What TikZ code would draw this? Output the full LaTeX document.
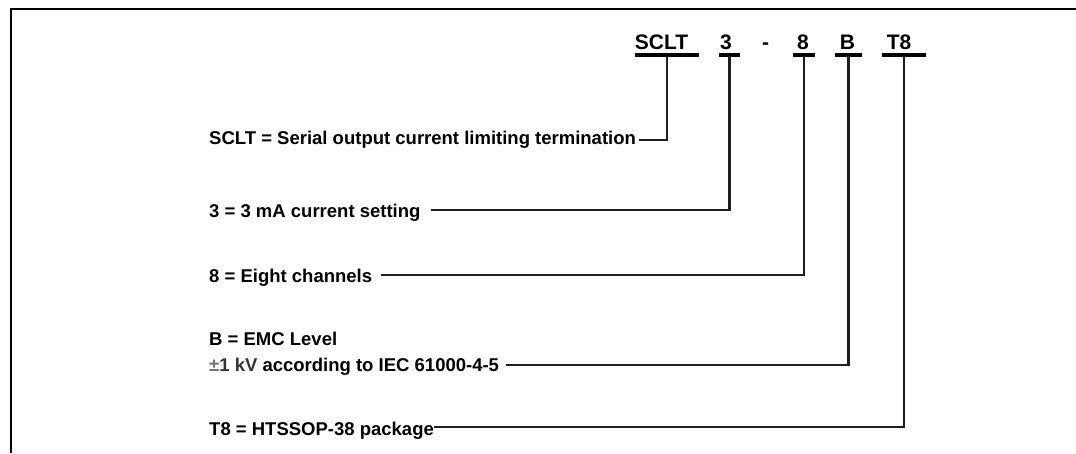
\documentclass[tikz,border=0pt]{standalone}
\usepackage{fontspec}
\setmainfont{Liberation Sans}
\begin{document}
\begin{tikzpicture}[x=1pt,y=-1pt,
  lbl/.style={font=\fontsize{18.5}{20}\selectfont\bfseries, inner sep=0pt, anchor=base west},
  code/.style={font=\fontsize{21}{23}\selectfont\bfseries, inner sep=0pt, anchor=base},
  uline/.style={line width=3.2pt},
  conn/.style={line width=2.3pt, draw=black!88},
  frameline/.style={line width=2.4pt}]
\useasboundingbox (0,0) rectangle (1076,453);
% frame
\draw[frameline] (11,453) -- (11,9) -- (1076,9);
% ordering code
\node[code] (cSCLT) at (661.5,49) {SCLT};
\node[code] (c3) at (726,49) {3};
\node[code] (cdash) at (765.5,49) {-};
\node[code] (c8) at (803,49) {8};
\node[code] (cB) at (847.5,49) {B};
\node[code] (cT8) at (899,49) {T8};
% underlines
\draw[uline] (635,55) -- (699,55);
\draw[uline] (719,55) -- (740,55);
\draw[uline] (793,55) -- (815,55);
\draw[uline] (835,55) -- (862,55);
\draw[uline] (882,55) -- (926,55);
\coordinate (u1) at (667,56);
\coordinate (u2) at (729.5,56);
\coordinate (u3) at (804,56);
\coordinate (u4) at (848.5,56);
\coordinate (u5) at (904,56);
% labels
\node[lbl] (l1) at (209,144) {SCLT = Serial output current limiting termination};
\node[lbl] (l2) at (209,217) {3 = 3 mA current setting};
\node[lbl] (l3) at (209,282) {8 = Eight channels};
\node[lbl] (l4a) at (209,345) {B = EMC Level};
\node[lbl] (l4) at (209,371) {{\color{black!55}±}{\color{black!80}1 kV} according to IEC 61000-4-5};
\node[lbl] (l5) at (209,435) {T8 = HTSSOP-38 package};
% connector ends
\coordinate (e1) at ([xshift=3pt,yshift=4pt]l1.base east);
\coordinate (e2) at ([xshift=10pt,yshift=7pt]l2.base east);
\coordinate (e3) at ([xshift=9pt,yshift=7pt]l3.base east);
\coordinate (e4) at ([xshift=7pt,yshift=6pt]l4.base east);
\coordinate (e5) at ([xshift=0pt,yshift=8pt]l5.base east);
% connectors
\draw[conn] (u1) |- (e1);
\draw[conn] (u2) |- (e2);
\draw[conn] (u3) |- (e3);
\draw[conn] (u4) |- (e4);
\draw[conn] (u5) |- (e5);
\end{tikzpicture}
\end{document}
